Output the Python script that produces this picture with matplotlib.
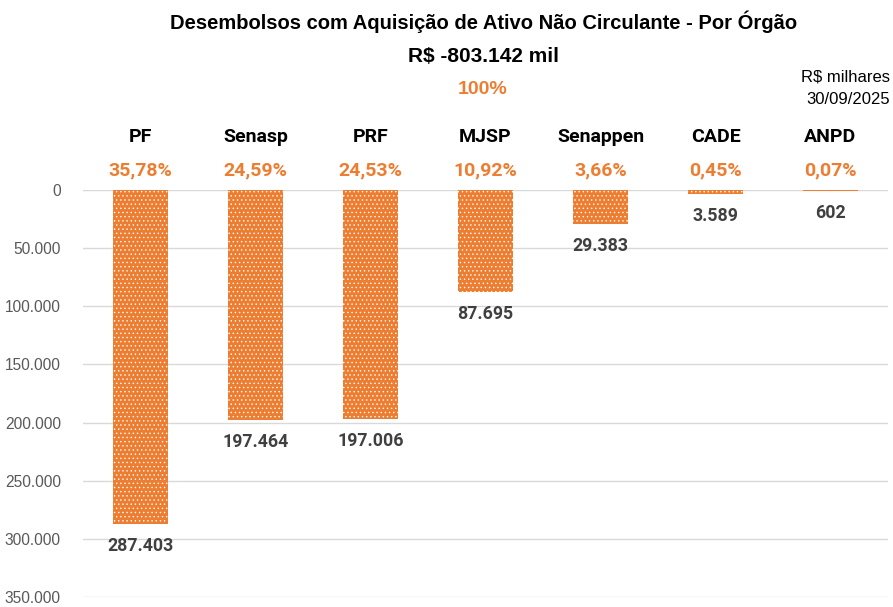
import matplotlib
matplotlib.use("Agg")
import matplotlib.pyplot as plt
from matplotlib.transforms import blended_transform_factory
from matplotlib.ticker import FuncFormatter

categories = ["PF", "Senasp", "PRF", "MJSP", "Senappen", "CADE", "ANPD"]
values = [287403, 197464, 197006, 87695, 29383, 3589, 602]
percents = ["35,78%", "24,59%", "24,53%", "10,92%", "3,66%", "0,45%", "0,07%"]
value_labels = ["287.403", "197.464", "197.006", "87.695", "29.383", "3.589", "602"]
yticks = [0, 50000, 100000, 150000, 200000, 250000, 300000, 350000]

plt.rcParams['font.family'] = ['Liberation Sans', 'DejaVu Sans']
plt.rcParams['hatch.color'] = 'white'
plt.rcParams['hatch.linewidth'] = 0.5

orange = '#ED7D31'
fig = plt.figure(figsize=(8.93, 6.07), dpi=100)
ax = fig.add_axes([83/893, 1-597/607, (888-83)/893, (597-190)/607])

x = list(range(len(categories)))
ax.bar(x, values, width=0.48, color=orange, edgecolor='white', linewidth=0, hatch='....', zorder=2)
ax.set_xlim(-0.5, len(categories)-0.5)
ax.set_ylim(350000, 0)
ax.set_yticks(yticks)
ax.yaxis.set_major_formatter(FuncFormatter(lambda v, p: f"{int(v):,}".replace(",", ".")))
ax.grid(axis='y', color='#D9D9D9', linewidth=1, zorder=0)
ax.set_xticks([])
for s in ax.spines.values():
    s.set_visible(False)
ax.tick_params(axis='y', length=0, labelsize=11.2, labelcolor='#595959', pad=16)

for xi, v, lab in zip(x, values, value_labels):
    ax.annotate(lab, (xi, v), xytext=(0, -9.5), textcoords='offset points',
                ha='center', va='top', fontsize=12.8, fontweight='bold', color='#404040',
                family=['Roboto', 'DejaVu Sans'])

tr = blended_transform_factory(ax.transData, fig.transFigure)
for xi, c, p in zip(x, categories, percents):
    fig.text(xi, 1-137/607, c, transform=tr, ha='center', va='center', fontsize=14,
             fontweight='bold', color='black', family=['Roboto', 'DejaVu Sans'])
    fig.text(xi, 1-170/607, p, transform=tr, ha='center', va='center', fontsize=14,
             fontweight='bold', color=orange, family=['Roboto', 'DejaVu Sans'])

fig.text(484/893, 1-22/607, "Desembolsos com Aquisição de Ativo Não Circulante - Por Órgão",
         ha='center', va='center', fontsize=14.5, fontweight='bold')
fig.text(483/893, 1-57/607, "R$ -803.142 mil", ha='center', va='center', fontsize=15, fontweight='bold')
fig.text(483/893, 1-90/607, "100%", ha='center', va='center', fontsize=14, fontweight='bold', color=orange)
fig.text(890/893, 1-77/607, "R$ milhares", ha='right', va='center', fontsize=12)
fig.text(890/893, 1-100/607, "30/09/2025", ha='right', va='center', fontsize=12)

fig.savefig("out.png", dpi=100)
